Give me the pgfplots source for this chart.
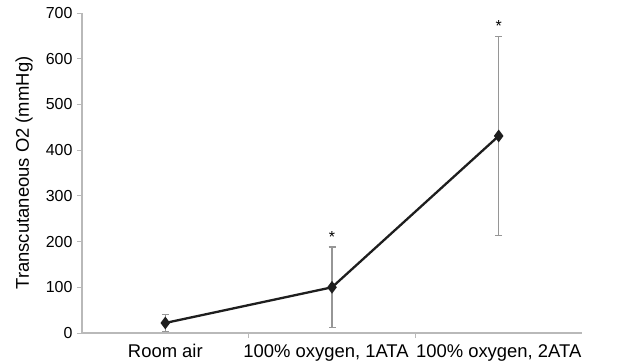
\documentclass[border=0pt]{standalone}
\usepackage{fontspec}
\setmainfont{Liberation Sans}
\usepackage{pgfplots}
\pgfplotsset{compat=1.18}
\definecolor{axgray}{RGB}{185,185,185}
\definecolor{errgray}{RGB}{150,150,150}
\definecolor{linec}{RGB}{30,30,30}
\begin{document}
\begin{tikzpicture}[x=1bp,y=1bp]
\begin{axis}[
  at={(0,0)}, anchor=south west,
  width=500bp, height=320bp, scale only axis,
  xmin=-0.5, xmax=2.5, ymin=0, ymax=700,
  axis x line=bottom, axis y line=left,
  axis line style={axgray, line width=1.3bp, -},
  xtick={0,1,2},
  xticklabels={Room air,{100\% oxygen, 1ATA\hspace*{12bp}},{100\% oxygen, 2ATA}},
  major x tick style={draw=none},
  minor xtick={0.5,1.5},
  minor x tick style={axgray, line width=1bp},
  minor tick length=5bp,
  ytick={0,100,...,700},
  major tick length=5bp,
  y tick style={axgray, line width=1bp},
  tick align=outside,
  /pgf/number format/assume math mode=true,
  yticklabel style={font=\fontsize{16}{18}\selectfont, xshift=-1bp},
  xticklabel style={font=\fontsize{18.5}{20}\selectfont, anchor=north, yshift=-3bp},
  ylabel={Transcutaneous O2 (mmHg)},
  every axis y label/.style={at={(-58bp,160bp)}, rotate=90, anchor=center, font=\fontsize{18.5}{20}\selectfont},
  clip=false,
]
\addplot[linec, line width=2.3bp, mark=diamond*, mark size=4.5bp,
  error bars/.cd, y dir=both, y explicit,
  error bar style={errgray, line width=1.2bp},
  error mark options={rotate=90, errgray, mark size=3.5bp, line width=1.2bp}]
  coordinates {(0,22) +- (0,18) (1,100) +- (0,88) (2,431) +- (0,217)};
\node[font=\fontsize{16}{18}\selectfont] at (axis cs:1,210) {*};
\node[font=\fontsize{16}{18}\selectfont] at (axis cs:2,672) {*};
\end{axis}
\pgfresetboundingbox
\path (-82,-30) rectangle (536,333);
\end{tikzpicture}
\end{document}
